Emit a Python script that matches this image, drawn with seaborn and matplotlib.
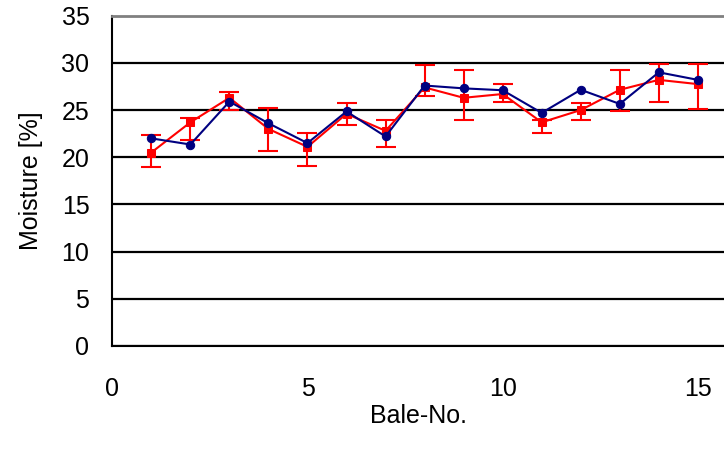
import matplotlib
matplotlib.use("Agg")
import matplotlib.pyplot as plt
import numpy as np
import pandas as pd
import seaborn as sns

# Bale numbers and moisture readings
bale_no = list(range(1, 16))
moisture_a = [22.0, 21.35, 25.9, 23.6, 21.5, 24.85, 22.2, 27.6, 27.3, 27.1, 24.7, 27.15, 25.65, 29.0, 28.2]
moisture_b = [20.5, 23.7, 26.3, 23.0, 21.1, 24.6, 22.8, 27.4, 26.3, 26.7, 23.7, 25.0, 27.15, 28.2, 27.75]
moisture_b_low = [19.0, 21.8, 25.0, 20.7, 19.1, 23.4, 21.1, 26.5, 23.9, 25.9, 22.6, 24.0, 24.9, 25.9, 25.1]
moisture_b_high = [22.4, 24.2, 26.9, 25.2, 22.6, 25.7, 23.9, 29.8, 29.2, 27.8, 24.0, 25.7, 29.2, 29.9, 29.9]

x_ticks = [0, 5, 10, 15]
y_ticks = [0, 5, 10, 15, 20, 25, 30, 35]

sns.set_style("white")
plt.rcParams["font.family"] = ["Liberation Sans", "DejaVu Sans"]

df = pd.DataFrame({
    "bale": bale_no,
    "a": moisture_a,
    "b": moisture_b,
    "b_low": moisture_b_low,
    "b_high": moisture_b_high,
})

fig = plt.figure(figsize=(7.24, 4.55), dpi=100)
ax = fig.add_axes([0.1551, 0.2396, 0.8449, 0.7259])

navy = "#000080"
red = "#FF0000"

# red series with its spread
yerr = np.vstack([df["b"] - df["b_low"], df["b_high"] - df["b"]])
ax.errorbar(df["bale"], df["b"], yerr=yerr, fmt="none", ecolor=red,
            elinewidth=1.5, capsize=7, capthick=1.5, zorder=3)
sns.lineplot(data=df, x="bale", y="b", ax=ax, color=red, lw=1.5,
             marker="s", markersize=5.5, markeredgecolor=red,
             markerfacecolor=red, zorder=4)
sns.lineplot(data=df, x="bale", y="a", ax=ax, color=navy, lw=1.5,
             marker="o", markersize=6, markeredgecolor=navy,
             markerfacecolor=navy, zorder=5)

ax.set_xlim(0, 15.67)
ax.set_ylim(0, 35)
ax.set_xticks(x_ticks)
ax.set_yticks(y_ticks)

ax.set_axisbelow(True)
ax.grid(axis="y", color="black", lw=1.6)
ax.grid(axis="x", visible=False)
ax.yaxis.get_gridlines()[-1].set_visible(False)

for side in ["left", "bottom"]:
    ax.spines[side].set_color("black")
    ax.spines[side].set_linewidth(1.5)
ax.spines["right"].set_visible(False)
ax.spines["top"].set_color("#808080")
ax.spines["top"].set_linewidth(2)

ax.tick_params(axis="both", direction="out", length=7.5, width=1.2,
               colors="black", labelcolor="black", labelsize=18)
ax.tick_params(axis="x", pad=15)
ax.tick_params(axis="y", pad=9)

ax.set_xlabel("Bale-No.", fontsize=18, labelpad=2, color="black")
ax.set_ylabel("Moisture [%]", fontsize=18, labelpad=13, color="black")

fig.savefig("out.png", dpi=100)
